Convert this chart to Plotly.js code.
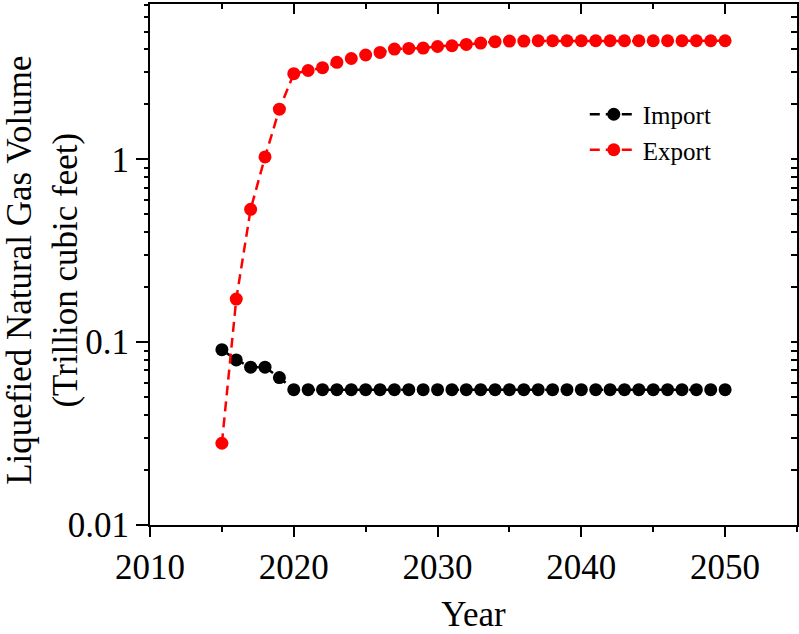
<!DOCTYPE html>
<html>
<head>
<meta charset="utf-8">
<script src="https://cdn.plot.ly/plotly-3.0.1.min.js"></script>
<style>
  html, body { margin: 0; padding: 0; background: #fff; }
  #chart { width: 799px; height: 634px; }
</style>
</head>
<body>
<div id="chart"></div>
<script>
// LNG volumes, trillion cubic feet per year
const years = [2015, 2016, 2017, 2018, 2019, 2020, 2021, 2022, 2023, 2024,
               2025, 2026, 2027, 2028, 2029, 2030, 2031, 2032, 2033, 2034,
               2035, 2036, 2037, 2038, 2039, 2040, 2041, 2042, 2043, 2044,
               2045, 2046, 2047, 2048, 2049, 2050];

const importVol = [0.091, 0.080, 0.073, 0.073, 0.064, 0.055, 0.055, 0.055, 0.055, 0.055,
                   0.055, 0.055, 0.055, 0.055, 0.055, 0.055, 0.055, 0.055, 0.055, 0.055,
                   0.055, 0.055, 0.055, 0.055, 0.055, 0.055, 0.055, 0.055, 0.055, 0.055,
                   0.055, 0.055, 0.055, 0.055, 0.055, 0.055];

const exportVol = [0.028, 0.172, 0.533, 1.03, 1.88, 2.94, 3.06, 3.17, 3.39, 3.56,
                   3.72, 3.84, 4.01, 4.04, 4.06, 4.14, 4.18, 4.25, 4.32, 4.40,
                   4.43, 4.43, 4.45, 4.45, 4.45, 4.45, 4.45, 4.45, 4.45, 4.45,
                   4.45, 4.45, 4.45, 4.45, 4.45, 4.45];

const seriesNames = ['Import', 'Export'];
const yTickVals = [0.01, 0.1, 1];
const yTickText = ['0.01', '0.1', '1'];
const yTitle = 'Liquefied Natural Gas Volume<br>(Trillion cubic feet)';
const xTitle = 'Year';

const FONT = 'Liberation Serif, Times New Roman, serif';
function font(size) { return { family: FONT, size: size, color: '#000' }; }

// 2..9 sub-ticks inside each decade of the log axis
const yMinorVals = [];
yTickVals.forEach(function (base) {
  for (let k = 2; k <= 9; k++) yMinorVals.push(+(base * k).toPrecision(3));
});

function series(name, y, color) {
  return {
    x: years, y: y, name: name,
    type: 'scatter', mode: 'lines+markers',
    line: { color: color, width: 2.5, dash: '10px,6px' },
    marker: { color: color, size: 13 }
  };
}

// empty carriers so the extra frame / minor-tick axes get drawn
function carrier(xa, ya) {
  return { x: years, y: exportVol, xaxis: xa, yaxis: ya, mode: 'none',
           showlegend: false, hoverinfo: 'skip' };
}

const data = [
  series(seriesNames[0], importVol, '#000000'),
  series(seriesNames[1], exportVol, '#ff0000'),
  carrier('x2', 'y2'),
  carrier('x', 'y3')
];

const yTop = Math.log10(7.07);

function axis(extra) {
  return Object.assign({
    showline: true, linecolor: '#000', linewidth: 2,
    showgrid: false, zeroline: false,
    tickcolor: '#000', tickwidth: 2,
    tickfont: font(35)
  }, extra);
}

const layout = {
  width: 799, height: 634,
  margin: { l: 150, r: 2, t: 4, b: 109 },
  legend: {
    x: 0.672, y: 0.832, xanchor: 'left', yanchor: 'top',
    bgcolor: 'rgba(0,0,0,0)', borderwidth: 0,
    itemwidth: 48,
    font: font(25)
  },
  xaxis: axis({
    range: [2010, 2055],
    tickmode: 'linear', tick0: 2010, dtick: 10,
    ticks: 'outside', ticklen: 10,
    minor: { dtick: 5, ticks: 'outside', ticklen: 5, tickwidth: 2, tickcolor: '#000', showgrid: false },
    title: { text: xTitle, font: font(35), standoff: 26 }
  }),
  yaxis: axis({
    type: 'log',
    range: [-2, yTop],
    tickmode: 'array', tickvals: yTickVals, ticktext: yTickText,
    ticks: 'outside', ticklen: 12
  }),
  // minor ticks on the left
  yaxis3: axis({
    overlaying: 'y', side: 'left', anchor: 'x',
    type: 'log', range: [-2, yTop], showline: false,
    tickmode: 'array', tickvals: yMinorVals,
    ticks: 'outside', ticklen: 5, showticklabels: false
  }),
  // frame on the top and right with inward ticks
  xaxis2: axis({
    overlaying: 'x', side: 'top', anchor: 'y',
    range: [2010, 2055],
    tickmode: 'linear', tick0: 2010, dtick: 10,
    ticks: 'inside', ticklen: 10, showticklabels: false,
    minor: { dtick: 5, ticks: 'inside', ticklen: 5, tickwidth: 2, tickcolor: '#000', showgrid: false }
  }),
  yaxis2: axis({
    overlaying: 'y', side: 'right', anchor: 'x',
    type: 'log', range: [-2, yTop],
    tickmode: 'array', tickvals: yTickVals.concat(yMinorVals),
    ticks: 'inside', ticklen: 6, showticklabels: false
  }),
  annotations: [{
    text: yTitle, textangle: -90,
    xref: 'paper', yref: 'paper', x: -0.166, y: 0.489,
    xanchor: 'center', yanchor: 'middle', showarrow: false,
    font: font(35)
  }]
};

Plotly.newPlot('chart', data, layout, { staticPlot: true });
</script>
</body>
</html>
